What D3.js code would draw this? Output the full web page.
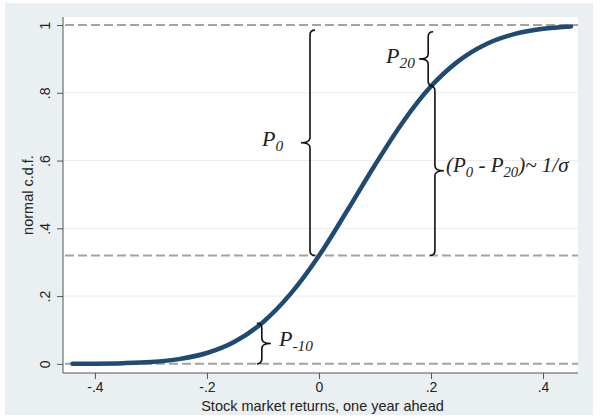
<!DOCTYPE html>
<html><head><meta charset="utf-8">
<script src="https://cdn.jsdelivr.net/npm/d3@7"></script>
<style>body{margin:0;background:#fff}svg{display:block}</style>
</head><body>
<svg id="c" width="601" height="419"></svg>
<script>
// ---- data ----
const curveX = [-0.44,-0.40,-0.35,-0.30,-0.25,-0.20,-0.15,-0.10,-0.05,0.00,0.05,0.10,0.15,0.20,0.25,0.30,0.35,0.40,0.45];
const curveY = [0.0002,0.0006,0.002,0.0055,0.014,0.032,0.066,0.123,0.208,0.319,0.451,0.587,0.714,0.819,0.895,0.945,0.974,0.989,0.996];
const xTicks = [-0.4,-0.2,0,0.2,0.4];
const xTickLabels = ["-.4","-.2","0",".2",".4"];
const yTicks = [0,0.2,0.4,0.6,0.8,1];
const yTickLabels = ["0",".2",".4",".6",".8","1"];
const dashedLevels = [0,0.32,1];
const xTitle = "Stock market returns, one year ahead";
const yTitle = "normal c.d.f.";
// braces: x position, from, to, tip direction
const braceX = [-0.016, 0.195, 0.207, -0.102];
const braceFrom = [0.32, 0.82, 0.32, 0.0];
const braceTo = [0.985, 0.98, 0.82, 0.12];
const braceDir = [-1, -1, 1, 1];

const svg = d3.select("#c");
const L=63, R=578, T=17, B=373;
const x = d3.scaleLinear().domain([-0.457,0.4625]).range([L,R]);
const y = d3.scaleLinear().domain([-0.027,1.0237]).range([B,T]);

svg.append("rect").attr("x",5).attr("y",3).attr("width",588).attr("height",412).attr("fill","#eaf0f2");
svg.append("rect").attr("x",L).attr("y",T).attr("width",R-L).attr("height",B-T).attr("fill","#fff");

// gridlines
svg.append("g").selectAll("line").data(yTicks.filter(v=>v>0&&v<1)).join("line")
  .attr("x1",L).attr("x2",R).attr("y1",d=>y(d)).attr("y2",d=>y(d))
  .attr("stroke","#ececec").attr("stroke-width",1);

// dashed levels
svg.append("g").selectAll("line").data(dashedLevels).join("line")
  .attr("x1",L+2).attr("x2",R).attr("y1",d=>y(d)).attr("y2",d=>y(d))
  .attr("stroke","#a3a3a3").attr("stroke-width",2).attr("stroke-dasharray","9,4");

// axes
const fontAx = "'Liberation Sans', Arial, sans-serif";
const gx = svg.append("g").attr("transform",`translate(0,${B})`)
  .call(d3.axisBottom(x).tickValues(xTicks).tickFormat((d,i)=>xTickLabels[i]).tickSize(6).tickPadding(3));
const gy = svg.append("g").attr("transform",`translate(${L},0)`)
  .call(d3.axisLeft(y).tickValues(yTicks).tickFormat((d,i)=>yTickLabels[i]).tickSize(6).tickPadding(4));
[gx,gy].forEach(g=>{
  g.attr("font-size",null).attr("font-family",null);
  g.select(".domain").attr("stroke","#555");
  g.selectAll(".tick line").attr("stroke","#555");
  g.selectAll("text").attr("font-family",fontAx).attr("font-size",14).attr("fill","#222");
});
gx.select(".domain").attr("d",`M${L},0H${R}`);
gy.select(".domain").attr("d",`M0,${T}V${B}`);
gy.selectAll(".tick text").attr("transform","rotate(-90)").attr("text-anchor","middle")
  .attr("x",0).attr("y",-13).attr("dy","0");

svg.append("text").attr("x",(L+R)/2+2).attr("y",411).attr("text-anchor","middle")
  .attr("font-family",fontAx).attr("font-size",14.5).attr("fill","#222").text(xTitle);
svg.append("text").attr("transform",`translate(33,${(T+B)/2}) rotate(-90)`).attr("text-anchor","middle")
  .attr("font-family",fontAx).attr("font-size",14.5).attr("fill","#222").text(yTitle);

// curve
const pts = curveX.map((v,i)=>[v,curveY[i]]);
svg.append("path").datum(pts)
  .attr("d",d3.line().x(d=>x(d[0])).y(d=>y(d[1])).curve(d3.curveMonotoneX))
  .attr("fill","none").attr("stroke","#1f4a73").attr("stroke-width",4.5).attr("stroke-linecap","round");

// braces
function brace(x0,y1,y2,dir){
  const w=5, t=9, ym=(y1+y2)/2, s=-dir; // curls go opposite to tip
  return `M${x0+s*w},${y1} Q${x0},${y1} ${x0},${y1+w} L${x0},${ym-w} Q${x0},${ym} ${x0+dir*t},${ym} `+
         `Q${x0},${ym} ${x0},${ym+w} L${x0},${y2-w} Q${x0},${y2} ${x0+s*w},${y2}`;
}
svg.append("g").selectAll("path").data(braceX).join("path")
  .attr("d",(d,i)=>brace(x(d),y(braceTo[i]),y(braceFrom[i]),braceDir[i]))
  .attr("fill","none").attr("stroke","#111").attr("stroke-width",1.6);

// labels
const serif="'Liberation Serif','Times New Roman',serif";
function label(px,py,parts,anchor,fs){
  fs=fs||22;
  const t=svg.append("text").attr("x",px).attr("y",py).attr("font-family",serif)
    .attr("font-style","italic").attr("font-size",fs).attr("fill","#222").attr("text-anchor",anchor||"start");
  parts.forEach(p=>{
    const ts=t.append("tspan").text(p[0]);
    if(p[1]==="sub") ts.attr("font-size",fs*0.7).attr("dy",5);
    else if(p[1]==="up") ts.attr("dy",-5);
  });
}
label(262,146,[["P"],["0","sub"]]);
label(386,63,[["P"],["20","sub"]]);
label(279,346,[["P"],["-10","sub"]]);
label(446,172,[["(P"],["0","sub"],[" - P","up"],["20","sub"],[")","up"],["~ 1/σ"]],"start",21);
</script>
</body></html>
